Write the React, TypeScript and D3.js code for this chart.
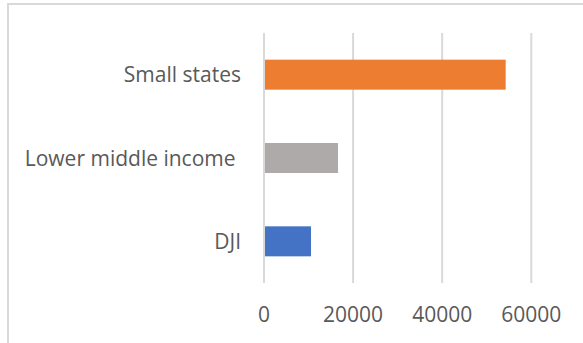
import React from "react";
import * as d3 from "d3";

// Categories are listed top to bottom as drawn.
const categories: string[] = ["Small states", "Lower middle income ", "DJI"];
const values: number[] = [54250, 16610, 10550];
const barColors: string[] = ["#ED7D31", "#AEAAAA", "#4472C4"];
const xTicks: number[] = [0, 20000, 40000, 60000];
const xMax = 60000;

const W = 583;
const H = 343;
const plot = { left: 264, right: 531.3, top: 33, bottom: 283 };
const FONT = "'Open Sans', 'Liberation Sans', sans-serif";
const TEXT = "#595959";
const GRID = "#D9D9D9";

export default function App() {
  const x = d3.scaleLinear().domain([0, xMax]).range([plot.left, plot.right]);
  const y = d3
    .scaleBand<string>()
    .domain(categories)
    .range([plot.top, plot.bottom])
    .paddingInner(0.64)
    .paddingOuter(0.32);

  const fontSize = 21;
  const capHalf = fontSize * 0.36;

  return (
    <svg
      width={W}
      height={H}
      style={{ position: "absolute", left: 0, top: 0, background: "#fff" }}
    >
      {/* chart frame */}
      <rect x={8} y={4} width={W + 20} height={H + 20} fill="#fff" stroke={GRID} strokeWidth={2} />

      {/* vertical gridlines */}
      {xTicks.map((t) => (
        <line
          key={`g${t}`}
          x1={x(t)}
          x2={x(t)}
          y1={plot.top}
          y2={plot.bottom}
          stroke={GRID}
          strokeWidth={2}
        />
      ))}

      {/* bars */}
      {categories.map((c, i) => (
        <rect
          key={c}
          x={x(0) + 1}
          y={y(c)!}
          width={x(values[i]) - x(0) - 1}
          height={y.bandwidth()}
          fill={barColors[i]}
        />
      ))}

      {/* category labels */}
      {categories.map((c) => (
        <text
          key={`l${c}`}
          x={241}
          y={y(c)! + y.bandwidth() / 2 + capHalf}
          textAnchor="end"
          fontFamily={FONT}
          fontSize={fontSize}
          fill={TEXT}
          style={{ whiteSpace: "pre" }}
        >
          {c}
        </text>
      ))}

      {/* value axis labels */}
      {xTicks.map((t) => (
        <text
          key={`t${t}`}
          x={x(t)}
          y={321.5}
          textAnchor="middle"
          fontFamily={FONT}
          fontSize={fontSize}
          fill={TEXT}
        >
          {t}
        </text>
      ))}
    </svg>
  );
}
